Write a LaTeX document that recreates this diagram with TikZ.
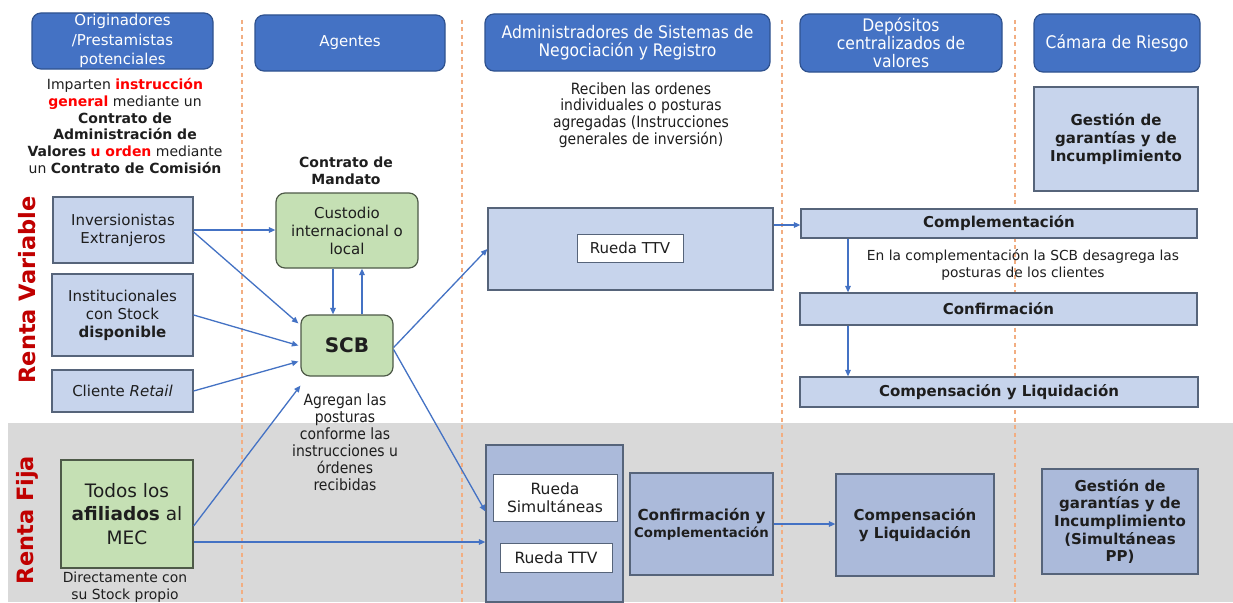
\documentclass[tikz,border=0pt]{standalone}
\usepackage{fontspec}
\setmainfont{DejaVu Sans}
\newfontfamily\condf{DejaVu Sans Condensed}
\usetikzlibrary{arrows.meta}
\definecolor{hdrblue}{HTML}{4472C4}
\definecolor{hdrborder}{HTML}{2F528F}
\definecolor{lightblue}{HTML}{C7D4EC}
\definecolor{darkblue}{HTML}{ABBADA}
\definecolor{boxborder}{HTML}{56647A}
\definecolor{lightgreen}{HTML}{C5E0B4}
\definecolor{greenborder}{HTML}{4E5A48}
\definecolor{bandgray}{HTML}{D9D9D9}
\definecolor{sepor}{HTML}{F2AE82}
\definecolor{txt}{HTML}{1E1E1E}
\definecolor{rentared}{HTML}{C00000}
\definecolor{redtxt}{HTML}{FF0000}
\begin{document}
\begin{tikzpicture}[x=1pt,y=-1pt,
  every node/.style={text=txt, inner sep=0pt, align=center},
  hdr/.style={draw=hdrborder, line width=1.2pt, fill=hdrblue, rounded corners=9pt, text=white},
  lbox/.style={draw=boxborder, line width=1.2pt, fill=lightblue},
  dbox/.style={draw=boxborder, line width=1.2pt, fill=darkblue},
  wbox/.style={draw=boxborder, line width=1pt, fill=white},
  gbox/.style={draw=greenborder, line width=1.2pt, fill=lightgreen},
  grbox/.style={gbox, rounded corners=9pt},
  sep/.style={draw=sepor, line width=1.2pt, dash pattern=on 4pt off 3.5pt},
  arr/.style={draw=hdrblue, line width=1.3pt, -{Triangle[length=6.5pt,width=5.5pt]}},
  vlab/.style={text=rentared, font=\bfseries\fontsize{22.5}{26}\selectfont, rotate=90},
  f15/.style={font=\fontsize{15}{18}\selectfont},
  b15/.style={font=\bfseries\fontsize{15}{17.7}\selectfont},
  c17/.style={font=\condf\fontsize{17.3}{18}\selectfont}
]
\useasboundingbox (0,0) rectangle (1233,602);
\fill[white] (0,0) rectangle (1233,602);
% gray band
\fill[bandgray] (8,423) rectangle (1233,602);
% separators
\draw[sep] (242,20) -- (242,602);
\draw[sep] (462,20) -- (462,602);
\draw[sep] (782,20) -- (782,602);
\draw[sep] (1015,20) -- (1015,602);

% headers
\node[hdr, minimum width=181pt, minimum height=56pt, font=\fontsize{15}{19.3}\selectfont] (h1) at (122.5,41) {Originadores\\/Prestamistas\\potenciales};
\node[hdr, minimum width=190pt, minimum height=56pt, font=\fontsize{15}{19}\selectfont] (h2) at (350,43) {Agentes};
\node[hdr, c17, minimum width=285pt, minimum height=57pt] (h3) at (627.5,42.5) {Administradores de Sistemas de\\Negociación y Registro};
\node[hdr, c17, minimum width=202pt, minimum height=58pt] (h4) at (901,43) {Depósitos\\centralizados de\\valores};
\node[hdr, c17, minimum width=166pt, minimum height=58pt] (h5) at (1117,43) {Cámara de Riesgo};

% descriptive texts
\node[font=\fontsize{14}{16.8}\selectfont] (imp) at (125,126) {Imparten \textcolor{redtxt}{\textbf{instrucción}}\\\textcolor{redtxt}{\textbf{general}} mediante un\\\textbf{Contrato de}\\\textbf{Administración de}\\\textbf{Valores} \textcolor{redtxt}{\textbf{u orden}} mediante\\un \textbf{Contrato de Comisión}};
\node[font=\bfseries\fontsize{14}{16.8}\selectfont] (mand) at (346,170.5) {Contrato de\\Mandato};
\node[font=\condf\fontsize{15.5}{16.7}\selectfont] (rec) at (641,115) {Reciben las ordenes\\individuales o posturas\\agregadas (Instrucciones\\generales de inversión)};

% Renta Variable
\node[vlab] (rv) at (27,290) {Renta Variable};
\node[lbox, f15, minimum width=140pt, minimum height=66pt] (inv) at (123,230) {Inversionistas\\Extranjeros};
\node[lbox, f15, minimum width=141pt, minimum height=82pt] (inst) at (122.5,315) {Institucionales\\con Stock\\\textbf{disponible}};
\node[lbox, f15, minimum width=141pt, minimum height=42pt] (cli) at (122.5,391) {Cliente \textit{Retail}};
\node[grbox, f15, minimum width=142pt, minimum height=75pt] (cus) at (347,230.5) {Custodio\\internacional o\\local};
\node[grbox, font=\bfseries\fontsize{20}{24}\selectfont, minimum width=92pt, minimum height=61pt] (scb) at (347,345.5) {SCB};
\node[font=\condf\fontsize{15.5}{17}\selectfont] (agr) at (345,442.5) {Agregan las\\posturas\\conforme las\\instrucciones u\\órdenes\\recibidas};
\node[lbox, minimum width=285pt, minimum height=82pt] (rvbox) at (630.5,249) {};
\node[wbox, f15, minimum width=106pt, minimum height=28pt] (rttv) at (630,248) {Rueda TTV};
\node[lbox, b15, minimum width=396pt, minimum height=29pt] (comp) at (999,223.5) {Complementación};
\node[font=\fontsize{13.8}{16.7}\selectfont] (entext) at (1023,265) {En la complementación la SCB desagrega las\\posturas de los clientes};
\node[lbox, b15, minimum width=397pt, minimum height=32pt] (conf) at (998.5,309) {Confirmación};
\node[lbox, b15, minimum width=398pt, minimum height=30pt] (liq) at (999,392) {Compensación y Liquidación};
\node[lbox, b15, minimum width=164pt, minimum height=104pt] (gest1) at (1116,139) {Gestión de\\garantías y de\\Incumplimiento};

% Renta Fija
\node[vlab] (rf) at (27,520) {Renta Fija};
\node[gbox, font=\fontsize{18.5}{23.5}\selectfont, minimum width=132pt, minimum height=108pt] (todos) at (127,514) {Todos los\\\textbf{afiliados} al\\MEC};
\node[font=\fontsize{13.9}{17}\selectfont, anchor=north] (direct) at (125,572) {Directamente con\\su Stock propio};
\node[dbox, minimum width=137pt, minimum height=157pt] (rfbox) at (554.5,523.5) {};
\node[wbox, font=\fontsize{15.5}{18}\selectfont, minimum width=124pt, minimum height=47pt] (rsim) at (555,497.5) {Rueda\\Simultáneas};
\node[wbox, font=\fontsize{15.5}{18}\selectfont, minimum width=112pt, minimum height=29pt] (rttv2) at (556,557.5) {Rueda TTV};
\node[dbox, font=\bfseries\fontsize{15.2}{17}\selectfont, minimum width=143pt, minimum height=102pt] (cc) at (701.5,524) {Confirmación y\\{\fontsize{13.3}{15}\selectfont Complementación}};
\node[dbox, b15, minimum width=158pt, minimum height=102pt] (liq2) at (915,525) {Compensación\\y Liquidación};
\node[dbox, b15, minimum width=156pt, minimum height=105pt] (gest2) at (1120,521.5) {Gestión de\\garantías y de\\Incumplimiento\\(Simultáneas\\PP)};

% connectors
\coordinate (vx) at (848,0);
\draw[arr] (inv.east) -- (inv.east -| cus.west);
\draw[arr] ([yshift=-2pt]inv.east) -- ([xshift=-2pt,yshift=-9pt]scb.north west);
\draw[arr] (inst.east) -- ([xshift=-2pt]scb.west);
\draw[arr] (cli.east) -- ([xshift=-2pt,yshift=-16pt]scb.west);
\draw[arr] ([xshift=-14pt]cus.south) -- ([xshift=-14pt]scb.north);
\draw[arr] ([xshift=15pt]scb.north) -- ([xshift=15pt]cus.south);
\draw[arr] ([yshift=-2pt]scb.east) -- (rvbox.west);
\draw[arr] ([yshift=-4pt]scb.east) -- ([yshift=12pt]rfbox.west);
\draw[arr] ([yshift=-12pt]todos.east) -- ([yshift=-9pt]scb.south west);
\draw[arr] ([yshift=-28pt]todos.east) -- ([yshift=-28pt]todos.east -| rfbox.west);
\draw[arr] ([yshift=24pt]rvbox.east) -- ([yshift=24pt]rvbox.east -| comp.west);
\draw[arr] (comp.south -| vx) -- (conf.north -| vx);
\draw[arr] (conf.south -| vx) -- (liq.north -| vx);
\draw[arr] (cc.east) -- (cc.east -| liq2.west);
\end{tikzpicture}
\end{document}
